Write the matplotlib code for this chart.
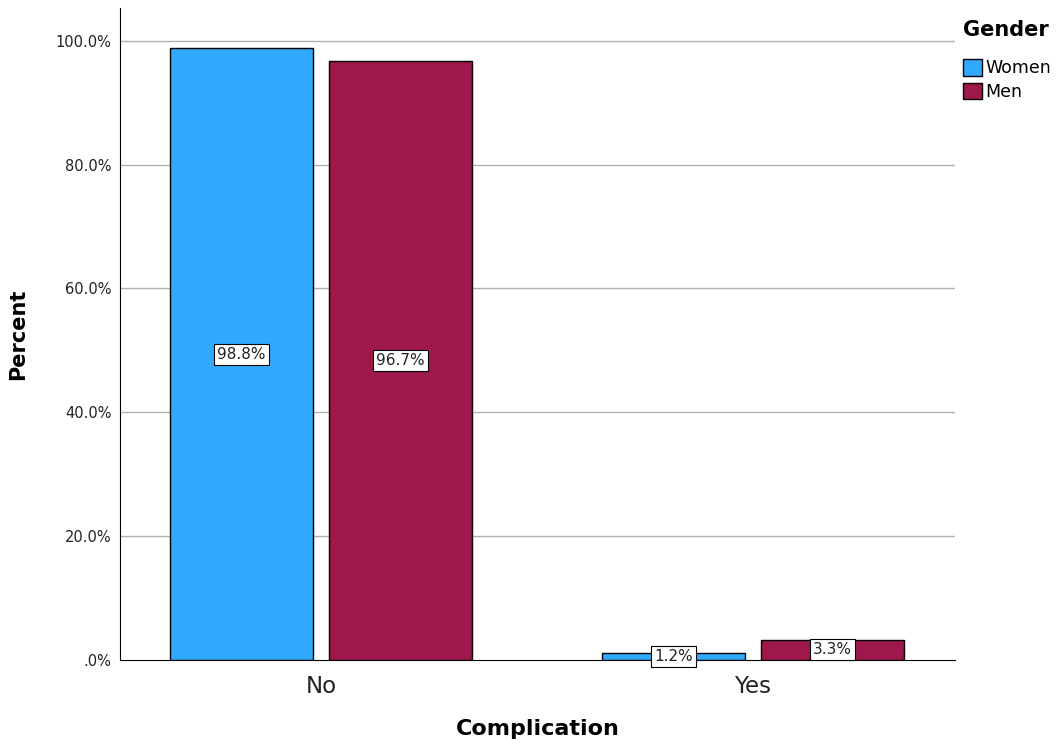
import numpy as np
import matplotlib
matplotlib.use('Agg')
import matplotlib.pyplot as plt
from matplotlib.patches import Patch

categories = ['No', 'Yes']
women = [98.8, 1.2]
men = [96.7, 3.3]
women_labels = ['98.8%', '1.2%']
men_labels = ['96.7%', '3.3%']
yticks = [0, 20, 40, 60, 80, 100]
ytick_labels = ['.0%', '20.0%', '40.0%', '60.0%', '80.0%', '100.0%']

women_color = '#2FAAFE'
men_color = '#9F184C'

fig = plt.figure(figsize=(10.61, 7.46), dpi=100)
ax = fig.add_axes([0.1131, 0.1153, 0.7870, 0.8740])

x = np.arange(len(categories))
width = 0.331
offset = 0.184

ax.bar(x - offset, women, width, color=women_color, edgecolor='black', linewidth=1.0, zorder=3)
ax.bar(x + offset, men, width, color=men_color, edgecolor='black', linewidth=1.0, zorder=3)

# value labels at the middle of each bar
box = dict(boxstyle='square,pad=0.2', facecolor='white', edgecolor='black', linewidth=0.8)
for xi, v, lab in zip(x - offset, women, women_labels):
    ax.text(xi, v / 2, lab, ha='center', va='center', fontsize=11, color='#222222', bbox=box, zorder=4)
for xi, v, lab in zip(x + offset, men, men_labels):
    ax.text(xi, v / 2, lab, ha='center', va='center', fontsize=11, color='#222222', bbox=box, zorder=4)

ax.set_xlim(-0.465, 1.468)
ax.set_ylim(0, 105.3)
ax.set_yticks(yticks)
ax.set_yticklabels(ytick_labels, fontsize=10.5, color='#222222')
ax.set_xticks(x)
ax.set_xticklabels(categories, fontsize=16.5, color='#222222')
ax.tick_params(axis='both', length=0)
ax.tick_params(axis='y', pad=6)
ax.tick_params(axis='x', pad=11)

for yv in yticks[1:]:
    ax.axhline(yv, color='#b0b0b0', linewidth=1.0, zorder=1)

ax.spines['top'].set_visible(False)
ax.spines['right'].set_visible(False)
ax.spines['left'].set_color('black')
ax.spines['bottom'].set_color('black')

ax.set_ylabel('Percent', fontsize=15, fontweight='bold', labelpad=20)
ax.set_xlabel('Complication', fontsize=16, fontweight='bold', labelpad=15)

handles = [Patch(facecolor=women_color, edgecolor='black', label='Women'),
           Patch(facecolor=men_color, edgecolor='black', label='Men')]
leg = fig.legend(handles=handles, title='Gender', loc='upper left',
                 bbox_to_anchor=(0.896, 0.99), frameon=False, fontsize=12.5,
                 title_fontsize=15, handlelength=1.1, handleheight=1.1,
                 handletextpad=0.2, labelspacing=0.3, borderpad=0.2)
leg.get_title().set_fontweight('bold')
leg._legend_box.align = 'left'
leg._legend_box.sep = 14  # extra room between title and entries

fig.savefig('out.png', dpi=100)
